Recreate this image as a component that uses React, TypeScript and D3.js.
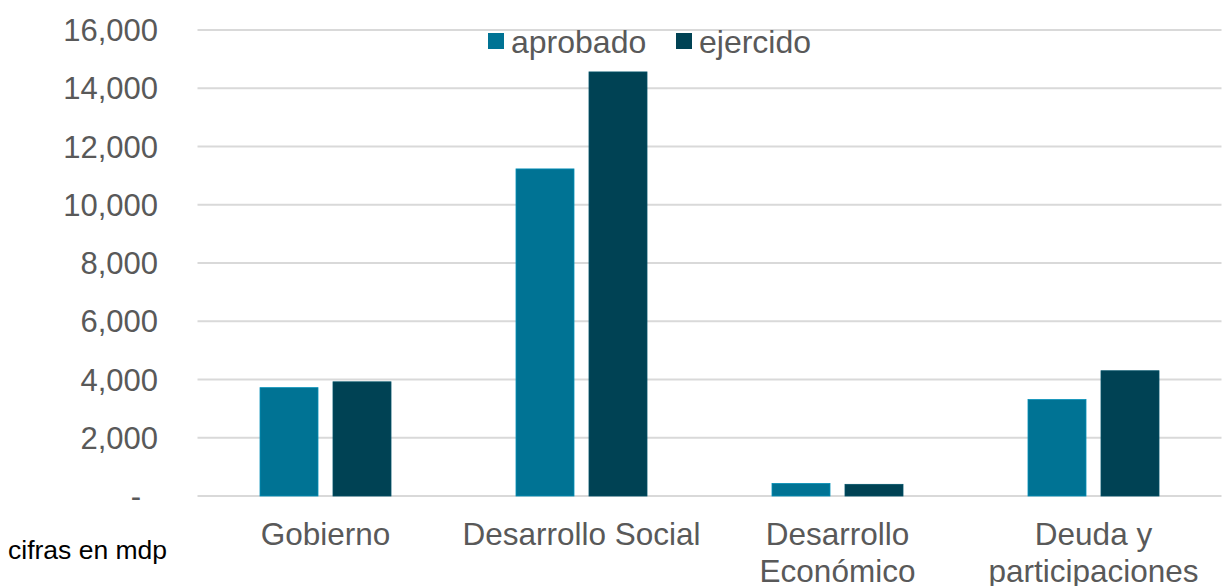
import React, { useEffect, useRef } from "react";
import * as d3 from "d3";

const categories = ["Gobierno", "Desarrollo Social", "Desarrollo Económico", "Deuda y participaciones"];
const categoryLines = [["Gobierno"], ["Desarrollo Social"], ["Desarrollo", "Económico"], ["Deuda y", "participaciones"]];
const aprobado = [3720, 11230, 430, 3310];
const ejercido = [3920, 14560, 400, 4300];
const seriesNames = ["aprobado", "ejercido"];
const seriesColors = ["#007394", "#004254"];
const yTicks = [0, 2000, 4000, 6000, 8000, 10000, 12000, 14000, 16000];

const width = 1222;
const height = 586;
const margin = { top: 30, right: 0.5, bottom: 90, left: 197.5 };
const font = "'Liberation Sans', Arial, sans-serif";

export default function App() {
  const svgRef = useRef<SVGSVGElement>(null);

  useEffect(() => {
    if (!svgRef.current) return;
    const svg = d3.select(svgRef.current);
    svg.selectAll("*").remove();

    const x = d3
      .scaleBand<string>()
      .domain(categories)
      .range([margin.left, width - margin.right])
      .padding(0);

    const y = d3
      .scaleLinear()
      .domain([0, 16000])
      .range([height - margin.bottom, margin.top]);

    // gridlines
    svg
      .append("g")
      .selectAll("line")
      .data(yTicks)
      .join("line")
      .attr("x1", margin.left)
      .attr("x2", width - margin.right)
      .attr("y1", (d) => y(d))
      .attr("y2", (d) => y(d))
      .attr("stroke", "#d9d9d9")
      .attr("stroke-width", 2);

    // y labels
    const fmt = d3.format(",");
    svg
      .append("g")
      .selectAll("text")
      .data(yTicks)
      .join("text")
      .attr("x", (d) => (d === 0 ? 141 : 158))
      .attr("y", (d) => y(d))
      .attr("dy", "0.36em")
      .attr("text-anchor", "end")
      .attr("font-family", font)
      .attr("font-size", 31)
      .attr("fill", "#595959")
      .text((d) => (d === 0 ? "-" : fmt(d)));

    // bars: 58px wide, 15px apart inside each group
    const barW = 58;
    const gap = 15;
    const groupW = barW * 2 + gap;
    const inner = d3
      .scaleBand<string>()
      .domain(seriesNames)
      .range([0, groupW])
      .paddingInner(gap / (barW + gap));

    const series = [aprobado, ejercido];
    series.forEach((vals, si) => {
      svg
        .append("g")
        .selectAll("rect")
        .data(vals)
        .join("rect")
        .attr("x", (_, i) => x(categories[i])! + x.bandwidth() / 2 - groupW / 2 + inner(seriesNames[si])!)
        .attr("width", inner.bandwidth())
        .attr("y", (d) => y(d))
        .attr("height", (d) => y(0) - y(d))
        .attr("fill", seriesColors[si])
        .attr("stroke", d3.color(seriesColors[si])!.brighter(0.6).formatHex())
        .attr("stroke-width", 0.8);
    });

    // category labels
    const cat = svg
      .append("g")
      .selectAll("text")
      .data(categories)
      .join("text")
      .attr("x", (d) => x(d)! + x.bandwidth() / 2)
      .attr("y", 545)
      .attr("text-anchor", "middle")
      .attr("font-family", font)
      .attr("font-size", 31.5)
      .attr("fill", "#595959");
    cat
      .selectAll("tspan")
      .data((_, i) => categoryLines[i])
      .join("tspan")
      .attr("x", function () {
        return (this.parentNode as SVGTextElement).getAttribute("x");
      })
      .attr("dy", (_, j) => (j === 0 ? 0 : 37))
      .text((d) => d);

    // legend
    const legendX = [488, 676];
    const lg = svg
      .append("g")
      .selectAll("g")
      .data(seriesNames)
      .join("g")
      .attr("transform", (_, i) => `translate(${legendX[i]},33)`);
    lg.append("rect")
      .attr("width", 16)
      .attr("height", 16)
      .attr("fill", (_, i) => seriesColors[i]);
    lg.append("text")
      .attr("x", 23)
      .attr("y", 8)
      .attr("dy", "0.36em")
      .attr("font-family", font)
      .attr("font-size", 32)
      .attr("fill", "#595959")
      .text((d) => d);

    svg
      .append("text")
      .attr("x", 8)
      .attr("y", 559)
      .attr("font-family", font)
      .attr("font-size", 26.5)
      .attr("fill", "#000")
      .text("cifras en mdp");
  }, []);

  return (
    <svg
      ref={svgRef}
      width={width}
      height={height}
      style={{ position: "absolute", left: 0, top: 0, background: "#fff" }}
    />
  );
}
